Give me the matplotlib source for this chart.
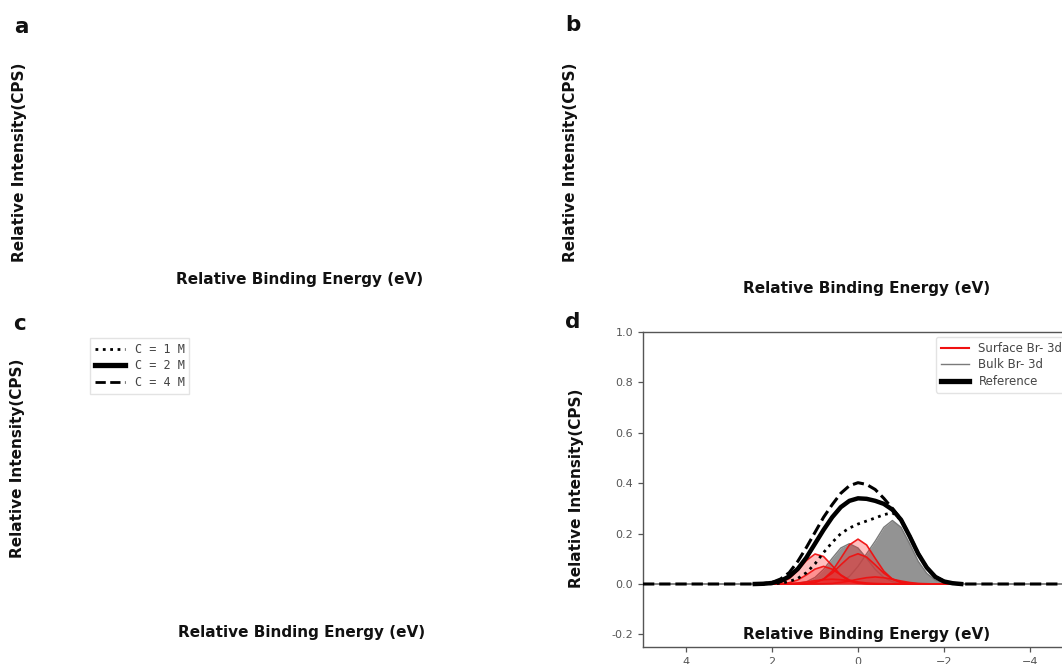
import numpy as np
import matplotlib
matplotlib.use("Agg")
import matplotlib.pyplot as plt
from matplotlib.lines import Line2D

plt.rcParams['font.family'] = ['DejaVu Sans']

# ---------------- data ----------------
X_CORE = [2.4, 2.2, 2.0, 1.8, 1.6, 1.4, 1.2, 1.0, 0.8, 0.6, 0.4, 0.2, 0.0,
          -0.2, -0.4, -0.6, -0.8, -1.0, -1.2, -1.4, -1.6, -1.8, -2.0, -2.2, -2.4]
X_EDGES = [5.0, -5.0]

REF_2M = [0.0, 0.001, 0.004, 0.012, 0.03, 0.06, 0.105, 0.16, 0.215, 0.265, 0.305, 0.33, 0.34,
          0.338, 0.33, 0.318, 0.295, 0.255, 0.19, 0.12, 0.065, 0.028, 0.01, 0.003, 0.0]
C_4M = [0.0, 0.002, 0.006, 0.02, 0.045, 0.09, 0.145, 0.205, 0.265, 0.315, 0.36, 0.39, 0.402,
        0.395, 0.375, 0.34, 0.30, 0.257, 0.192, 0.122, 0.066, 0.029, 0.011, 0.003, 0.0]
C_1M = [0.0, 0.0, 0.001, 0.003, 0.01, 0.022, 0.045, 0.08, 0.125, 0.165, 0.2, 0.222, 0.238,
        0.25, 0.262, 0.275, 0.283, 0.254, 0.19, 0.12, 0.065, 0.028, 0.01, 0.003, 0.0]

BULK_1 = [0, 0, 0, 0, 0, 0, 0, 0, 0, 0.003, 0.01, 0.03, 0.07,
          0.12, 0.17, 0.225, 0.252, 0.225, 0.16, 0.09, 0.042, 0.015, 0.004, 0.001, 0.0]
BULK_2 = [0, 0, 0, 0, 0.001, 0.003, 0.009, 0.026, 0.058, 0.102, 0.143, 0.16, 0.143,
          0.102, 0.058, 0.026, 0.009, 0.003, 0.001, 0, 0, 0, 0, 0, 0]

SURF_1 = [0, 0, 0.001, 0.006, 0.021, 0.053, 0.093, 0.119, 0.109, 0.073, 0.035, 0.012, 0.003,
          0.001, 0, 0, 0, 0, 0, 0, 0, 0, 0, 0, 0]
SURF_2 = [0, 0, 0, 0, 0, 0, 0.001, 0.006, 0.019, 0.051, 0.102, 0.155, 0.178,
          0.155, 0.102, 0.051, 0.019, 0.006, 0.001, 0, 0, 0, 0, 0, 0]
SURF_3 = [0, 0, 0, 0, 0, 0.001, 0.002, 0.007, 0.02, 0.043, 0.076, 0.107, 0.12,
          0.107, 0.076, 0.043, 0.02, 0.007, 0.002, 0.001, 0, 0, 0, 0, 0]
SURF_4 = [0, 0, 0, 0.001, 0.005, 0.016, 0.036, 0.059, 0.07, 0.059, 0.036, 0.016, 0.005,
          0.001, 0, 0, 0, 0, 0, 0, 0, 0, 0, 0, 0]
SURF_5 = [0, 0, 0, 0, 0, 0, 0, 0, 0.001, 0.002, 0.006, 0.012, 0.019,
          0.025, 0.028, 0.025, 0.019, 0.012, 0.006, 0.002, 0.001, 0, 0, 0, 0]
SURF_6 = [0, 0, 0, 0.001, 0.002, 0.004, 0.008, 0.013, 0.017, 0.019, 0.017, 0.013, 0.008,
          0.004, 0.002, 0.001, 0, 0, 0, 0, 0, 0, 0, 0, 0]

PANEL_LETTERS = ['a', 'b', 'c', 'd']
LEGEND_C_LABELS = ['C = 1 M', 'C = 2 M', 'C = 4 M']
LEGEND_D_LABELS = ['Surface Br- 3d', 'Bulk Br- 3d', 'Reference']
XTICKS = [4, 2, 0, -2, -4]
YTICKS = [-0.2, 0.0, 0.2, 0.4, 0.6, 0.8, 1.0]
XLABEL = 'Relative Binding Energy (eV)'
YLABEL = 'Relative Intensity(CPS)'

# ---------------- figure ----------------
W, H = 1062, 664
fig = plt.figure(figsize=(W / 100, H / 100), dpi=100)


def px_axes(l, t, r, b):
    ax = fig.add_axes([l / W, 1 - b / H, (r - l) / W, (b - t) / H])
    return ax, (l, t, r, b)


def place_labels(ax, rect, xl_c, yl_c):
    l, t, r, b = rect
    ax.set_xlabel(XLABEL, fontsize=11, fontweight='heavy', color='#111111', va='center', ha='center')
    ax.set_ylabel(YLABEL, fontsize=11, fontweight='heavy', color='#111111', va='center', ha='center')
    ax.xaxis.set_label_coords((xl_c[0] - l) / (r - l), (b - xl_c[1]) / (b - t))
    ax.yaxis.set_label_coords((yl_c[0] - l) / (r - l), (b - yl_c[1]) / (b - t))


def blank(ax):
    ax.set_xticks([])
    ax.set_yticks([])
    for s in ax.spines.values():
        s.set_visible(False)
    ax.patch.set_alpha(0)


layout = {
    'a': dict(rect=(84, 35, 514, 292), xl=(300, 280), yl=(20, 162), letter=(21, 27)),
    'b': dict(rect=(637, 35, 1067, 299), xl=(867, 288), yl=(571, 162), letter=(573, 25)),
    'c': dict(rect=(84, 332, 514, 647), xl=(302, 632), yl=(18, 458), letter=(19, 324)),
    'd': dict(rect=(643, 332, 1073, 647), xl=(867, 635), yl=(577, 488), letter=(573, 322)),
}

axes = {}
for key in PANEL_LETTERS:
    cfg = layout[key]
    ax, rect = px_axes(*cfg['rect'])
    axes[key] = ax
    if key != 'd':
        blank(ax)
    place_labels(ax, rect, cfg['xl'], cfg['yl'])
    fig.text(cfg['letter'][0] / W, 1 - cfg['letter'][1] / H, key, fontsize=15.5,
             fontweight='heavy', ha='center', va='center', color='#111111')

# ----- panel c legend -----
axc = axes['c']
handles_c = [Line2D([], [], color='black', ls=':', lw=2.0),
             Line2D([], [], color='black', ls='-', lw=3.8),
             Line2D([], [], color='black', ls='--', lw=2.0)]
axc.legend(handles_c, LEGEND_C_LABELS, loc='upper left',
           bbox_to_anchor=(90 / W, 1 - 338 / H), bbox_transform=fig.transFigure,
           borderaxespad=0, prop={'family': 'DejaVu Sans Mono', 'size': 8.5},
           labelcolor='#444444', handlelength=2.6, labelspacing=0.3,
           frameon=True, edgecolor='#dddddd', fancybox=False)

# ----- panel d -----
ax = axes['d']
xc = np.array(X_CORE)
xw = np.r_[X_EDGES[0], xc, X_EDGES[1]]

def pad(a):
    return np.r_[0.0, np.array(a, float), 0.0]

gray_fill = '#939393'
for i, comp in enumerate([BULK_2, BULK_1]):
    ax.fill_between(xw, 0, pad(comp), color=gray_fill, lw=0, zorder=1)
    ax.plot(xw, pad(comp), color='#7a7a7a', lw=1.0, zorder=2,
            label=LEGEND_D_LABELS[1] if i == 0 else None)

for i, comp in enumerate([SURF_1, SURF_2, SURF_3, SURF_4, SURF_5, SURF_6]):
    ax.fill_between(xc, 0, comp, color='#ff1a1a', alpha=0.28, lw=0, zorder=3)
    ax.plot(xc, comp, color='#f01010', lw=1.2, alpha=0.95, zorder=4,
            label=LEGEND_D_LABELS[0] if i == 0 else None)

ax.plot(xc, C_1M, color='black', ls=':', lw=2.0, zorder=5)
ax.plot(xc, REF_2M, color='black', ls='-', lw=3.2, zorder=6, label=LEGEND_D_LABELS[2])
ax.plot(xw, pad(C_4M), color='black', ls='--', lw=2.2, zorder=7)

ax.set_xlim(5, -5)
ax.set_ylim(-0.25, 1.0)
ax.set_xticks(XTICKS)
ax.set_yticks(YTICKS)
ax.set_xticklabels([f'{v:g}'.replace('-', '\u2212') for v in XTICKS])
ax.set_yticklabels([f'{v:.1f}' for v in YTICKS])
ax.tick_params(labelsize=8, colors='#555555', labelcolor='#555555', width=0.9)
for s in ax.spines.values():
    s.set_color('#555555')
    s.set_linewidth(1.0)

hd = [Line2D([], [], color='#f01010', lw=1.5),
      Line2D([], [], color='#7a7a7a', lw=1.0),
      Line2D([], [], color='black', lw=3.8)]
ax.legend(hd, LEGEND_D_LABELS, loc='upper left', bbox_to_anchor=(936 / W, 1 - 337 / H),
          bbox_transform=fig.transFigure, borderaxespad=0, fontsize=8.5,
          labelcolor='#444444', handlelength=2.4, labelspacing=0.3,
          frameon=True, edgecolor='#dddddd', fancybox=True)

fig.savefig('out.png', dpi=100)
